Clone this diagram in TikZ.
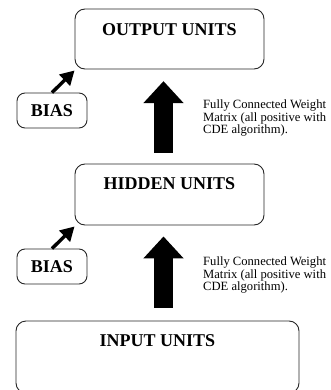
\documentclass[tikz,border=0pt]{standalone}
\usepackage{fontspec}
\setmainfont{Liberation Serif}
\usetikzlibrary{arrows.meta}
\tikzset{
  x=1pt, y=-1pt,
  unitbox/.style={draw=black!85, line width=0.9pt, rounded corners=10pt, inner sep=0pt},
  unitlabel/.style={font=\fontsize{18}{20}\selectfont\bfseries, inner sep=0pt, anchor=base},
  biasbox/.style={draw=black!85, line width=0.9pt, rounded corners=8pt, minimum width=70pt, minimum height=35pt, inner sep=0pt, font=\fontsize{18}{20}\selectfont\bfseries, text height=12pt, text depth=0pt},
  bigarrow/.style={line width=19pt, -{Triangle[length=22pt,width=39pt]}},
  biasarrow/.style={line width=3.4pt, -{Triangle[length=14pt,width=15pt]}},
  weighttext/.style={font=\fontsize{12.6}{12.6}\selectfont, align=left, anchor=north west, inner sep=0pt}
}
\begin{document}
\begin{tikzpicture}
\useasboundingbox (0,0) rectangle (331,390);
% boxes
\node[unitbox, minimum width=189pt, minimum height=60pt] (out) at (169.5,39) {};
\node[unitbox, minimum width=189pt, minimum height=61pt] (hid) at (169.5,194.5) {};
\node[unitbox, minimum width=283pt, minimum height=72pt] (inp) at (157.5,357) {};
\node[unitlabel] (outl) at ([yshift=-27pt]out.north) {OUTPUT UNITS};
\node[unitlabel] (hidl) at ([yshift=-26pt]hid.north) {HIDDEN UNITS};
\node[unitlabel] (inpl) at ([yshift=-26pt]inp.north) {INPUT UNITS};
% bias
\node[biasbox] (b1) at (52,110.5) {BIAS};
\node[biasbox] (b2) at (52,266.5) {BIAS};
\draw[biasarrow] (b1.north) -- ([yshift=-1pt]out.south west);
\draw[biasarrow] (b2.north) -- ([yshift=-1pt]hid.south west);
% big arrows
\draw[bigarrow] ([xshift=-6pt,yshift=11pt]hid.north) -- ([xshift=-6pt,yshift=-11.7pt]out.south);
\draw[bigarrow] ([xshift=6pt,yshift=13pt]inp.north) -- ([xshift=-6pt,yshift=-11pt]hid.south);
% texts
\node[weighttext] (w1) at (203,99.5) {Fully Connected Weight\\Matrix (all positive with\\CDE algorithm).};
\node[weighttext] (w2) at (203,256.5) {Fully Connected Weight\\Matrix (all positive with\\CDE algorithm).};
\end{tikzpicture}
\end{document}
